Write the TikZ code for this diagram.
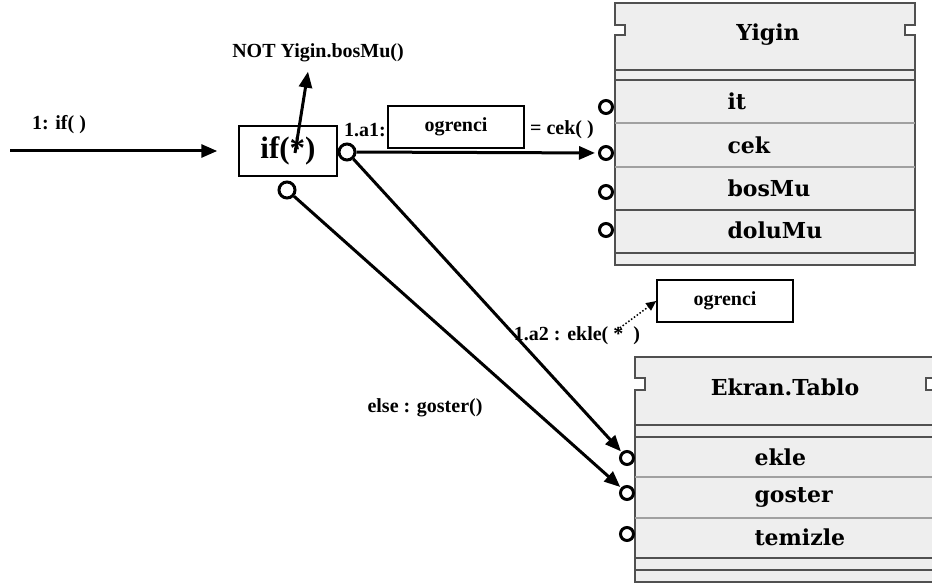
\documentclass[tikz,border=0pt]{standalone}
\usepackage{fontspec}
\setmainfont{Liberation Serif}
\newfontfamily\clsfont{DejaVu Serif}
\usetikzlibrary{arrows.meta}
\definecolor{clsfill}{HTML}{EEEEEE}
\definecolor{clsline}{HTML}{505050}
\definecolor{rowline}{HTML}{A0A0A0}

\begin{document}
\begin{tikzpicture}
      [x = 1pt, y = -1pt, line width = 3pt,
       font = \bfseries\fontsize{20}{22}\selectfont,
       arr/.style = {-{Triangle[length = 16pt, width = 13pt]}},
       port/.style = {circle, draw, fill = white, inner sep = 0pt, minimum size = 16pt, line width = 3pt},
       clsport/.style = {port, minimum size = 13pt},
       objbox/.style = {draw, line width = 1.5pt, minimum width = 136pt, minimum height = 42pt},
       lbl/.style = {inner sep = 0pt},
       member/.style = {anchor = west, inner sep = 0pt, font = \clsfont\bfseries\fontsize{22}{24}\selectfont},
       clstitle/.style = {inner sep = 0pt, font = \clsfont\bfseries\fontsize{22}{24}\selectfont}]
      \useasboundingbox (0,0) rectangle (932,588);
      \filldraw[fill = clsfill, draw = clsline, line width = 1.5pt]
        (615,3) -- (915,3) -- (915,25) -- (905,25) -- (905,35) -- (915,35) -- (915,265)
        -- (615,265) -- (615,35) -- (625,35) -- (625,25) -- (615,25) -- cycle;
      \foreach \y in {70, 80, 210, 253}
        \draw[clsline, line width = 1.5pt] (615,\y) -- (915,\y);
      \foreach \y in {123, 167}
        \draw[rowline, line width = 1.5pt] (615,\y) -- (915,\y);
      \node[clstitle] (yigin) at (768,35) {Yigin};
      \foreach \y/\m/\n in {101/it/yit, 145/cek/ycek, 188/bosMu/ybos, 230/doluMu/ydolu}
        \node[member] (\n) at (726,\y) {\m};
      \foreach \y/\n in {107/pit, 153/pcek, 192/pbos, 230/pdolu}
        \node[clsport] (\n) at (606,\y) {};
      \filldraw[fill = clsfill, draw = clsline, line width = 1.5pt]
        (635,357) -- (936,357) -- (936,378) -- (926,378) -- (926,390) -- (936,390) -- (936,582)
        -- (635,582) -- (635,390) -- (645,390) -- (645,378) -- (635,378) -- cycle;
      \foreach \y in {425, 437, 558, 570}
        \draw[clsline, line width = 1.5pt] (635,\y) -- (936,\y);
      \foreach \y in {477, 518}
        \draw[rowline, line width = 1.5pt] (635,\y) -- (936,\y);
      \node[clstitle] (ekran) at (785,387) {Ekran.Tablo};
      \foreach \y/\m/\n in {457/ekle/eekle, 497/goster/egoster, 537/temizle/etemizle}
        \node[member] (\n) at (753,\y) {\m};
      \foreach \y/\n in {458/pekle, 493/pgoster, 534/ptemizle}
        \node[clsport] (\n) at (627,\y) {};
      \node[draw, line width = 1.5pt, minimum width = 98pt, minimum height = 50pt,
            font = \bfseries\fontsize{31}{33}\selectfont] (ifbox) at (288,151) {if(*)};
      \node[lbl] (iflbl) at (59,125) {1: if( )};
      \coordinate (start) at (10,151);
      \draw[arr, shorten >= 21pt] (start) -- (ifbox);
      \node[lbl] (notlbl) at (318,53) {NOT Yigin.bosMu()};
      \draw[arr] ([xshift = 7pt, yshift = -2pt]ifbox.center) -- ([xshift = -10pt, yshift = -8pt]notlbl.south);
      \node[port] (pa1) at (347,152) {};
      \node[port] (pelse) at (287,190) {};
      \node[lbl] (a1lbl) at (365,130) {1.a1:};
      \node[objbox] (obj1) at (456,127) {ogrenci};
      \node[lbl] (ceklbl) at (562,130) {= cek( )};
      \draw[arr, shorten >= 3pt] (pa1) -- (pcek);
      \draw[arr, shorten >= 1pt] (pa1) -- (pekle);
      \draw[arr, shorten >= 1pt] (pelse) -- (pgoster);
      \node[lbl] (a2lbl) at (577,336) {1.a2 : ekle( *~~)};
      \node[objbox] (obj2) at (725,301) {ogrenci};
      \coordinate (a2star) at (617,330);
      \draw[dotted, line width = 1.5pt, -{Triangle[length = 10pt, width = 9pt]}] (a2star) -- (obj2.west);
      \node[lbl] (elselbl) at (425,408) {else : goster()};
      \end{tikzpicture}
\end{document}
